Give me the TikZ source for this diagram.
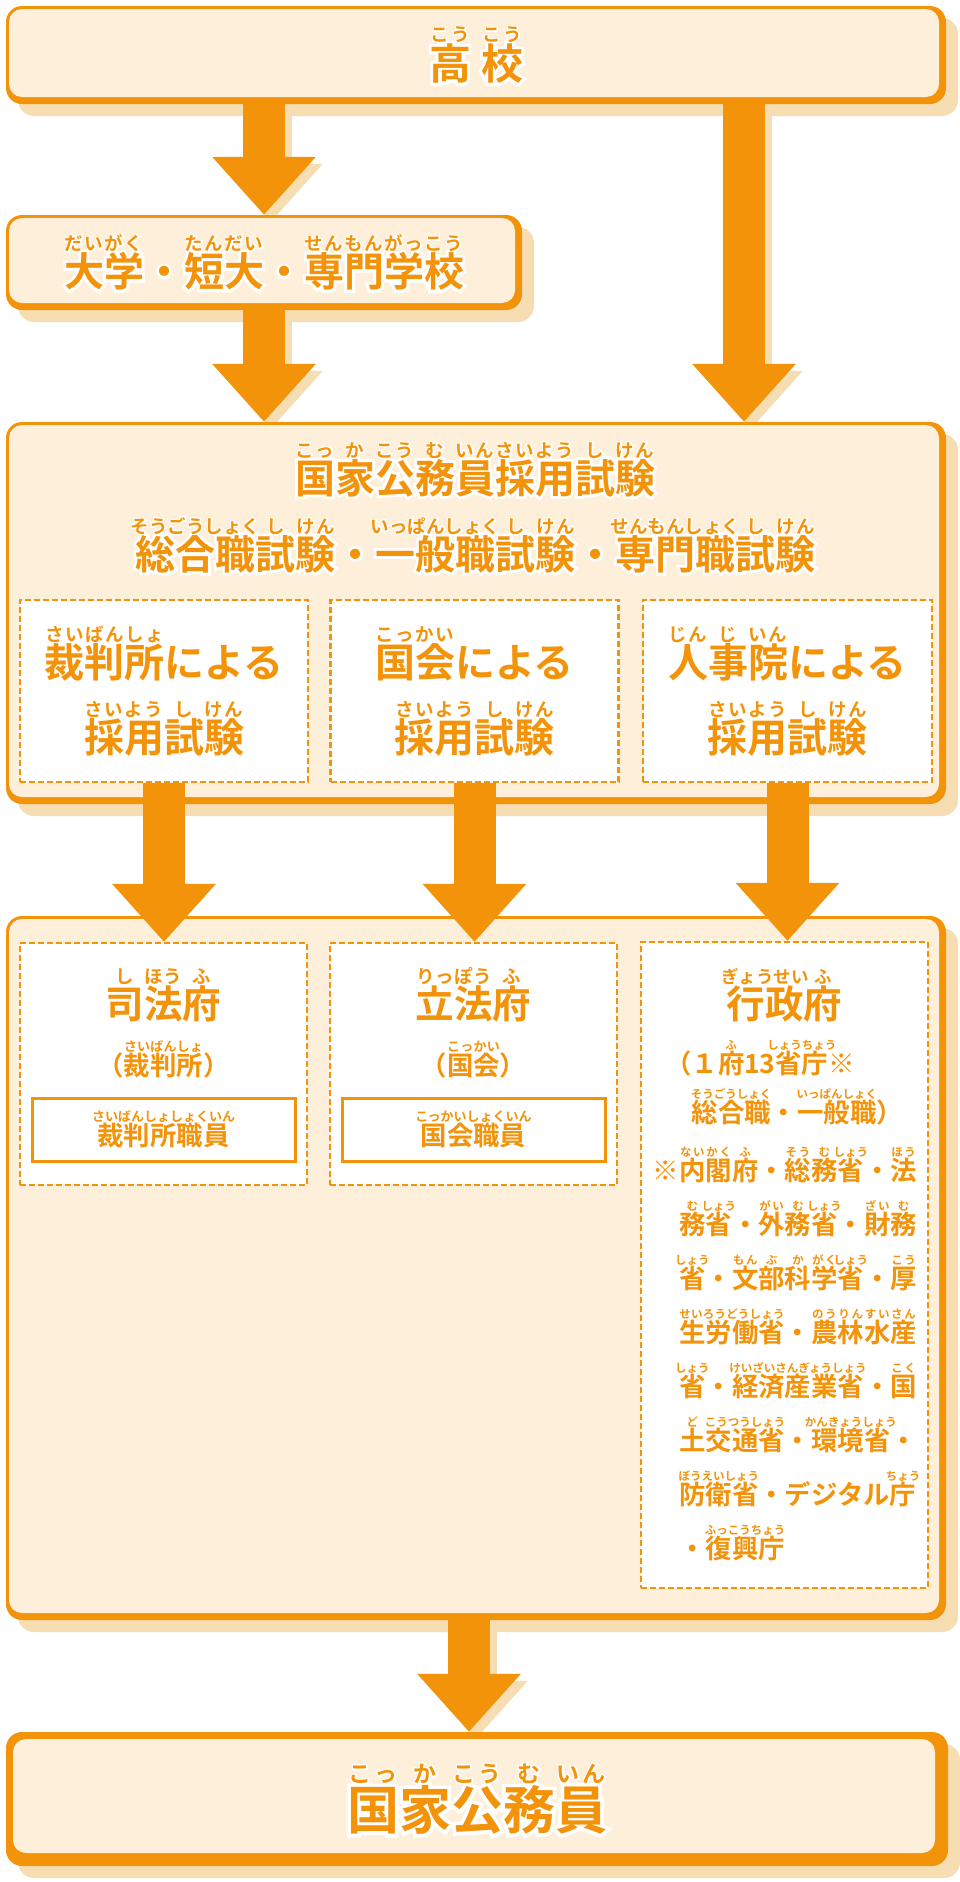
\documentclass[tikz,border=0pt]{standalone}
\usepackage{fontspec}
\setmainfont{Noto Sans CJK JP Bold}
\newfontfamily\halofont{Noto Sans CJK JP Bold}[FakeBold=14]
\usetikzlibrary{arrows.meta, shadows}
\definecolor{orng}{RGB}{243,147,10}
\definecolor{cream}{RGB}{253,239,217}
\definecolor{tanc}{RGB}{247,222,178}
\pgfdeclarelayer{bg}
\pgfsetlayers{bg,main}

% ruby (furigana) over a base text
\def\rbsz{16}
\newcommand\rbfont{\fontsize{\rbsz}{\rbsz}\selectfont}
\def\rbspread#1{\hskip0pt plus1fil#1\rbnext}
\def\rbnext#1{\ifx#1\relax\hskip0pt plus1fil\else\hskip0pt plus2fil#1\expandafter\rbnext\fi}
\newcommand\rb[2]{\leavevmode\setbox0\hbox{#1}\setbox2\hbox{\rbfont#2}%
  \ifdim\wd2<\wd0 \setbox2\hbox to\wd0{\rbfont\rbspread#2\relax}\fi
  \rlap{\hbox to\wd0{\hss\raisebox{.9em}{\box2}\hss}}\box0\relax}
% white outline behind orange text
\newcommand\halo[1]{\leavevmode\rlap{\color{white}\halofont#1}#1}

\tikzset{
  sbox/.style 2 args={rectangle, rounded corners=16pt, fill=orng, inner sep=0pt,
    drop shadow={shadow xshift=12pt, shadow yshift=-12pt, fill=tanc, opacity=1},
    path picture={\fill[cream, rounded corners=13pt]
      ([shift={(#1,#1)}]path picture bounding box.north west) rectangle
      ([shift={(-#2,-#2)}]path picture bounding box.south east);}},
  dbox/.style={rectangle, draw=orng, line width=2.2pt, dash pattern=on 6pt off 3pt, fill=white, inner sep=0pt},
  pbox/.style={rectangle, draw=orng, line width=3pt, fill=white, inner sep=0pt},
  hd/.style={font=\fontsize{40}{75}\selectfont\def\rbsz{18.5}, text=orng, inner sep=0pt, align=center},
  sm/.style={font=\fontsize{26.4}{54}\selectfont\def\rbsz{11.5}, text=orng, inner sep=0pt, align=left},
  flow/.style={orng, line width=42pt, -{Triangle[length=58pt, width=100pt]}},
  flowshadow/.style={tanc, line width=42pt, -{Triangle[length=58pt, width=100pt]}, transform canvas={shift={(7pt,-7pt)}}},
}

\begin{document}
\begin{tikzpicture}[x=1pt, y=-1pt]
\useasboundingbox (0,0) rectangle (960,1882);

% schools
\node[sbox={3}{7}, minimum width=940pt, minimum height=98pt, hd, font=\fontsize{42}{50}\selectfont\def\rbsz{18.5}] (hs) at (476,55) {\halo{\rb{高}{こう}\hspace{10pt}\rb{校}{こう}}};
\node[sbox={3}{7}, minimum width=516pt, minimum height=95pt, hd] (ub) at (264,262.5) {\halo{\rb{大学}{だいがく}・\rb{短大}{たんだい}・\rb{専門学校}{せんもんがっこう}}};

% examination
\node[sbox={3}{7}, minimum width=940pt, minimum height=382pt] (ex) at (476,613) {};
\node[hd, anchor=south] (exa) at (475,497) {\halo{\rb{国}{こっ}\rb{家}{か}\rb{公}{こう}\rb{務}{む}\rb{員}{いん}\rb{採}{さい}\rb{用}{よう}\rb{試}{し}\rb{験}{けん}}};
\node[hd, anchor=south] (exb) at (475.5,573) {\halo{\rb{総合職}{そうごうしょく}\rb{試}{し}\rb{験}{けん}・\rb{一般職}{いっぱんしょく}\rb{試}{し}\rb{験}{けん}・\rb{専門職}{せんもんしょく}\rb{試}{し}\rb{験}{けん}}};
\node[dbox, minimum width=288pt, minimum height=182pt, hd] (ea) at (164,691) {\rb{裁判所}{さいばんしょ}による\\\rb{採}{さい}\rb{用}{よう}\rb{試}{し}\rb{験}{けん}};
\node[dbox, minimum width=288pt, minimum height=182pt, hd] (eb) at (474.5,691) {\rb{国会}{こっかい}による\\\rb{採}{さい}\rb{用}{よう}\rb{試}{し}\rb{験}{けん}};
\node[dbox, minimum width=289pt, minimum height=182pt, hd] (ec) at (787.5,691) {\rb{人}{じん}\rb{事}{じ}\rb{院}{いん}による\\\rb{採}{さい}\rb{用}{よう}\rb{試}{し}\rb{験}{けん}};

% branches of government
\node[sbox={3}{7}, minimum width=940pt, minimum height=704pt] (gv) at (476,1268) {};
\node[dbox, minimum width=287pt, minimum height=242pt] (ja) at (163.5,1064) {};
\node[dbox, minimum width=287pt, minimum height=242pt] (jb) at (473.5,1064) {};
\node[dbox, minimum width=287pt, minimum height=646pt] (jc) at (784.5,1265) {};

\node[hd, font=\fontsize{38.5}{45}\selectfont\def\rbsz{18.5}, anchor=south] (ja1) at (163.5,1022) {\rb{司}{し}\rb{法}{ほう}\rb{府}{ふ}};
\node[sm, font=\fontsize{26.4}{32}\selectfont\def\rbsz{13}, anchor=south] (ja2) at (163.5,1078) {（\rb{裁判所}{さいばんしょ}）};
\node[pbox, minimum width=263pt, minimum height=63pt, sm, font=\fontsize{26.4}{32}\selectfont\def\rbsz{13}] (sa) at (163.5,1129.5) {\rb{裁判所職員}{さいばんしょしょくいん}};

\node[hd, font=\fontsize{38.5}{45}\selectfont\def\rbsz{18.5}, anchor=south] (jb1) at (473.5,1022) {\rb{立}{りっ}\rb{法}{ぽう}\rb{府}{ふ}};
\node[sm, font=\fontsize{26.4}{32}\selectfont\def\rbsz{13}, anchor=south] (jb2) at (473.5,1078) {（\rb{国会}{こっかい}）};
\node[pbox, minimum width=263pt, minimum height=63pt, sm, font=\fontsize{26.4}{32}\selectfont\def\rbsz{13}] (sb) at (473.5,1129.5) {\rb{国会職員}{こっかいしょくいん}};

\node[hd, font=\fontsize{38.5}{45}\selectfont\def\rbsz{17.5}, anchor=south] (jc1) at (784.5,1022) {\rb{行政}{ぎょうせい}\rb{府}{ふ}};
\node[sm, font=\fontsize{26.4}{49}\selectfont\def\rbsz{11.5}, anchor=north west] (jc2) at (665,1040) {（１\rb{府}{ふ}13\rb{省庁}{しょうちょう}※\\　\rb{総合職}{そうごうしょく}・\rb{一般職}{いっぱんしょく}）};
\node[sm, anchor=north west] (jc3) at (679,1147) {\llap{※}\rb{内閣}{ないかく}\rb{府}{ふ}・\rb{総}{そう}\rb{務}{む}\rb{省}{しょう}・\rb{法}{ほう}\\
  \rb{務}{む}\rb{省}{しょう}・\rb{外}{がい}\rb{務}{む}\rb{省}{しょう}・\rb{財}{ざい}\rb{務}{む}\\
  \rb{省}{しょう}・\rb{文}{もん}\rb{部}{ぶ}\rb{科}{か}\rb{学}{がく}\rb{省}{しょう}・\rb{厚}{こう}\\
  \rb{生労働省}{せいろうどうしょう}・\rb{農林水産}{のうりんすいさん}\\
  \rb{省}{しょう}・\rb{経済産業省}{けいざいさんぎょうしょう}・\rb{国}{こく}\\
  \rb{土}{ど}\rb{交通省}{こうつうしょう}・\rb{環境省}{かんきょうしょう}・\\
  \rb{防衛省}{ぼうえいしょう}・デジタル\rb{庁}{ちょう}\\
  ・\rb{復興庁}{ふっこうちょう}};

% result
\node[sbox={7}{13}, minimum width=942pt, minimum height=134pt, hd, font=\fontsize{52}{60}\selectfont\def\rbsz{23}] (kk) at (477,1799) {\halo{\rb{国}{こっ}\rb{家}{か}\rb{公}{こう}\rb{務}{む}\rb{員}{いん}}};

% arrows
\coordinate (rt) at (744,0);
\coordinate (bt) at (469,0);
\begin{pgfonlayer}{bg}
  \fill[white] (0,0) rectangle (960,1882);
  \draw[flowshadow] (ub.north |- hs.south) -- (ub.north);
  \draw[flowshadow] (ub.south) -- (ub.south |- ex.north);
  \draw[flowshadow] (rt |- hs.south) -- (rt |- ex.north);
  \draw[flowshadow] (bt |- gv.south) -- (bt |- kk.north);
\end{pgfonlayer}
\draw[flow] (ub.north |- hs.south) -- (ub.north);
\draw[flow] (ub.south) -- (ub.south |- ex.north);
\draw[flow] (rt |- hs.south) -- (rt |- ex.north);
\draw[flow] (ea.south) -- (ea.south |- ja.north);
\draw[flow] (eb.south) -- (eb.south |- jb.north);
\draw[flow] (ec.south) -- (ec.south |- jc.north);
\draw[flow] (bt |- gv.south) -- (bt |- kk.north);
\end{tikzpicture}
\end{document}
